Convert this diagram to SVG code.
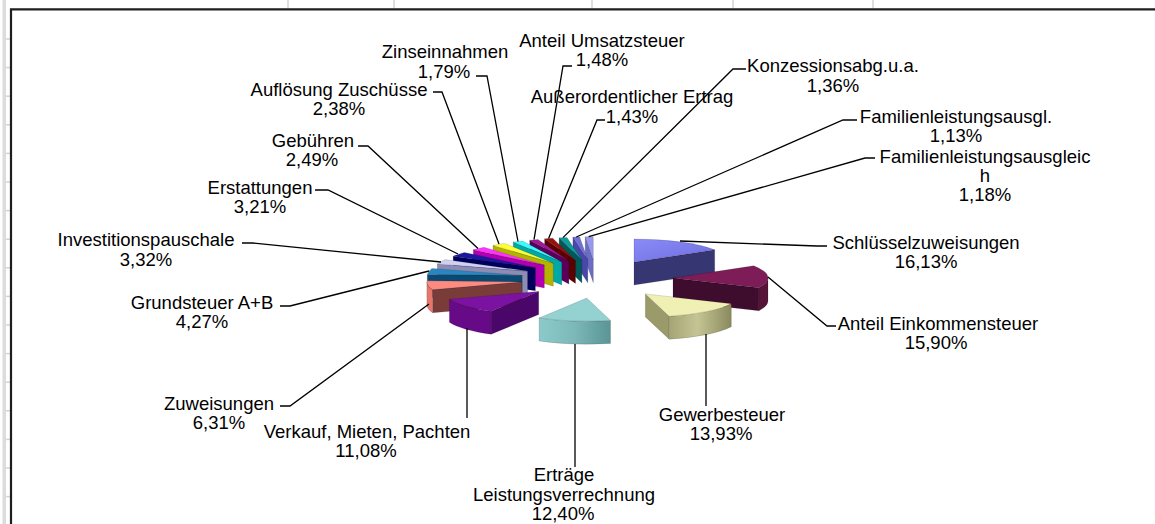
<svg xmlns="http://www.w3.org/2000/svg" width="1155" height="524" viewBox="0 0 1155 524">
<defs>
<style>
.t{font-family:"Liberation Sans",Arial,sans-serif;font-size:18.5px;fill:#000;text-anchor:middle}
.f{stroke:#000;stroke-opacity:.22;stroke-width:.6;stroke-linejoin:round}
.c{fill:none;stroke:#000;stroke-width:1.3}
.g{stroke:#d4d4d4;stroke-width:1.5}
</style>
<linearGradient id="gKh" x1="0" x2="1" y1="0" y2="0"><stop offset="0" stop-color="#a4a474"/><stop offset=".45" stop-color="#c4c494"/><stop offset="1" stop-color="#8a8a5e"/></linearGradient>
<linearGradient id="gTe" x1="0" x2="1" y1="0" y2="0"><stop offset="0" stop-color="#8ccaca"/><stop offset=".5" stop-color="#7cb8b8"/><stop offset="1" stop-color="#5a9494"/></linearGradient>
<linearGradient id="gBl" x1="0" x2="1" y1="0" y2="1"><stop offset="0" stop-color="#8a8af8"/><stop offset="1" stop-color="#6e6ee0"/></linearGradient>
</defs>
<rect width="1155" height="524" fill="#fff"/>
<g id="sheet-grid">
<rect x="2.5" y="0" width="3.5" height="524" fill="#dcdcdc"/>
<line class="g" x1="288" y1="0" x2="288" y2="8"/><line class="g" x1="394" y1="0" x2="394" y2="8"/><line class="g" x1="592" y1="0" x2="592" y2="8"/><line class="g" x1="733" y1="0" x2="733" y2="8"/><line class="g" x1="873" y1="0" x2="873" y2="8"/>
<line class="g" x1="6" y1="39" x2="10" y2="39"/><line class="g" x1="6" y1="67.6" x2="10" y2="67.6"/><line class="g" x1="6" y1="96.2" x2="10" y2="96.2"/><line class="g" x1="6" y1="124.8" x2="10" y2="124.8"/><line class="g" x1="6" y1="153.4" x2="10" y2="153.4"/><line class="g" x1="6" y1="182" x2="10" y2="182"/><line class="g" x1="6" y1="210.6" x2="10" y2="210.6"/><line class="g" x1="6" y1="239.2" x2="10" y2="239.2"/><line class="g" x1="6" y1="267.8" x2="10" y2="267.8"/><line class="g" x1="6" y1="296.4" x2="10" y2="296.4"/><line class="g" x1="6" y1="325" x2="10" y2="325"/><line class="g" x1="6" y1="353.6" x2="10" y2="353.6"/><line class="g" x1="6" y1="382.2" x2="10" y2="382.2"/><line class="g" x1="6" y1="410.8" x2="10" y2="410.8"/><line class="g" x1="6" y1="439.4" x2="10" y2="439.4"/><line class="g" x1="6" y1="468" x2="10" y2="468"/><line class="g" x1="6" y1="496.6" x2="10" y2="496.6"/>
</g>
<path d="M11,524 L11,9.3 L1155,9.3" fill="none" stroke="#1e1e1e" stroke-width="2.2"/>

<g id="n-familienleistungsausgleich">
<polygon class="f" points="593.3,259.7 585.2,236.8 585.2,259.8 593.3,282.7" fill="#6c6cc4"/>
<path class="f" d="M593.3,259.7 L585.2,236.8 A95,23 0 0 1 593.3,236.7 Z" fill="#9898f0"/>
<text class="t" x="985" y="162.5">Familienleistungsausgleic</text>
<text class="t" x="985" y="181.5">h</text>
<text class="t" x="985" y="201">1,18%</text>
</g>
<g id="n-familienleistungsausgl">
<polygon class="f" points="587.8,259.8 572.9,237.1 572.9,260.1 587.8,282.8" fill="#4848a8"/>
<path class="f" d="M587.8,259.8 L572.9,237.1 A95,23 0 0 1 579.7,236.9 Z" fill="#7070d8"/>
<text class="t" x="956" y="122.5">Familienleistungsausgl.</text>
<text class="t" x="956" y="142">1,13%</text>
</g>
<g id="n-konzessionsabg">
<polygon class="f" points="581.9,260.1 559.1,237.8 559.1,260.8 581.9,283.1" fill="#005a5a"/>
<path class="f" d="M581.9,260.1 L559.1,237.8 A95,23 0 0 1 567,237.4 Z" fill="#109a9a"/>
<text class="t" x="833" y="71.5">Konzessionsabg.u.a.</text>
<text class="t" x="833" y="91.5">1,36%</text>
</g>
<g id="n-ausserordentlicher-ertrag">
<polygon class="f" points="575.5,260.5 544.6,238.8 544.6,261.8 575.5,283.5" fill="#5a0000"/>
<path class="f" d="M575.5,260.5 L544.6,238.8 A95,23 0 0 1 552.7,238.2 Z" fill="#9a1010"/>
<text class="t" x="632" y="103">Außerordentlicher Ertrag</text>
<text class="t" x="632" y="123">1,43%</text>
</g>
<g id="n-anteil-umsatzsteuer">
<polygon class="f" points="568.9,261.1 529.7,240.2 529.7,263.2 568.9,284.1" fill="#5a005a"/>
<path class="f" d="M568.9,261.1 L529.7,240.2 A95,23 0 0 1 538,239.4 Z" fill="#9a1a9a"/>
<text class="t" x="602" y="46.5">Anteil Umsatzsteuer</text>
<text class="t" x="602" y="66">1,48%</text>
</g>
<g id="n-zinseinnahmen">
<polygon class="f" points="561.8,261.9 513.2,242.1 513.2,265.1 561.8,284.9" fill="#00a8a8"/>
<path class="f" d="M561.8,261.9 L513.2,242.1 A95,23 0 0 1 522.6,241 Z" fill="#33ffff"/>
<text class="t" x="445" y="58">Zinseinnahmen</text>
<text class="t" x="444" y="77.5">1,79%</text>
</g>
<g id="n-aufloesung-zuschuesse">
<polygon class="f" points="553.3,263.2 493,245.4 493,268.4 553.3,286.2" fill="#b4b400"/>
<path class="f" d="M553.3,263.2 L493,245.4 A95,23 0 0 1 504.7,243.4 Z" fill="#ffff33"/>
<text class="t" x="339" y="95.5">Auflösung Zuschüsse</text>
<text class="t" x="339" y="114.5">2,38%</text>
</g>
<g id="n-gebuehren">
<polygon class="f" points="544.3,265.1 473.3,249.8 473.3,272.8 544.3,288.1" fill="#b000b0"/>
<path class="f" d="M544.3,265.1 L473.3,249.8 A95,23 0 0 1 484,247.3 Z" fill="#ff33ff"/>
<text class="t" x="313" y="146.5">Gebühren</text>
<text class="t" x="312" y="166">2,49%</text>
</g>
<g id="n-erstattungen">
<polygon class="f" points="535.4,267.7 453.2,256.2 453.2,279.2 535.4,290.7" fill="#00005a"/>
<path class="f" d="M535.4,267.7 L453.2,256.2 A95,23 0 0 1 464.4,252.4 Z" fill="#1a1aa0"/>
<text class="t" x="260" y="193.5">Erstattungen</text>
<text class="t" x="260" y="213">3,21%</text>
</g>
<g id="n-investitionspauschale">
<polygon class="f" points="527.6,271.1 437.3,264 437.3,287 527.6,294.1" fill="#8c8cb4"/>
<path class="f" d="M527.6,271.1 L437.3,264 A95,23 0 0 1 445.4,259.6 Z" fill="#d0d0f4"/>
<text class="t" x="146" y="246">Investitionspauschale</text>
<text class="t" x="146" y="265.5">3,32%</text>
</g>
<g id="n-grundsteuer">
<polygon class="f" points="522.2,275.5 427.3,274.4 427.3,297.4 522.2,298.5" fill="#0a4a72"/>
<path class="f" d="M522.2,275.5 L427.3,274.4 A95,23 0 0 1 431.9,268.4 Z" fill="#2a86c0"/>
<text class="t" x="202" y="308.5">Grundsteuer A+B</text>
<text class="t" x="202" y="328">4,27%</text>
</g>
<g id="n-zuweisungen">
<polygon class="f" points="521.9,281.9 432.6,289.8 432.6,312.8 521.9,304.9" fill="#7a3c38"/>
<path class="f" d="M432.6,289.8 A95,23 0 0 1 426.9,281.9 L426.9,304.9 A95,23 0 0 0 432.6,312.8 Z" fill="#e8766c"/>
<path class="f" d="M521.9,281.9 L432.6,289.8 A95,23 0 0 1 427,280.8 Z" fill="#ff8a80"/>
<text class="t" x="219" y="409.5">Zuweisungen</text>
<text class="t" x="219" y="429">6,31%</text>
</g>
<g id="n-schluesselzuweisungen">
<polygon class="f" points="634,262 714.7,249.8 714.7,272.8 634,285" fill="#363672"/>
<path class="f" d="M634,262 L634,239 A95,23 0 0 1 714.7,249.8 Z" fill="url(#gBl)"/>
<text class="t" x="926" y="248.5">Schlüsselzuweisungen</text>
<text class="t" x="926" y="268">16,13%</text>
</g>
<g id="n-anteil-einkommensteuer">
<polygon class="f" points="673,278 758.9,287.8 758.9,310.8 673,301" fill="#3e0c2c"/>
<path class="f" d="M768,278 A95,23 0 0 1 758.9,287.8 L758.9,310.8 A95,23 0 0 0 768,301 Z" fill="#561438"/>
<path class="f" d="M673,278 L753.7,265.8 A95,23 0 0 1 758.9,287.8 Z" fill="#7e1c58"/>
<text class="t" x="938" y="329.5">Anteil Einkommensteuer</text>
<text class="t" x="936" y="349">15,90%</text>
</g>
<g id="n-gewerbesteuer">
<polygon class="f" points="645.4,293.9 669.2,316.2 669.2,339.2 645.4,316.9" fill="#9a9a6a"/>
<path class="f" d="M731.3,303.7 A95,23 0 0 1 669.2,316.2 L669.2,339.2 A95,23 0 0 0 731.3,326.7 Z" fill="url(#gKh)"/>
<path class="f" d="M645.4,293.9 L731.3,303.7 A95,23 0 0 1 669.2,316.2 Z" fill="#f0f0b4"/>
<text class="t" x="722" y="420.5">Gewerbesteuer</text>
<text class="t" x="721" y="440">13,93%</text>
</g>
<g id="n-ertraege-leistungsverrechnung">
<path class="f" d="M610.5,320.4 A95,23 0 0 1 539.1,318 L539.1,341 A95,23 0 0 0 610.5,343.4 Z" fill="url(#gTe)"/>
<path class="f" d="M586.7,298.1 L610.5,320.4 A95,23 0 0 1 539.1,318 Z" fill="#94d2d2"/>
<text class="t" x="564" y="480.5">Erträge</text>
<text class="t" x="564" y="500.5">Leistungsverrechnung</text>
<text class="t" x="563" y="520">12,40%</text>
</g>
<g id="n-verkauf-mieten-pachten">
<polygon class="f" points="538.7,291.4 491.1,311.3 491.1,334.3 538.7,314.4" fill="#4a0668"/>
<path class="f" d="M491.1,311.3 A95,23 0 0 1 449.4,299.3 L449.4,322.3 A95,23 0 0 0 491.1,334.3 Z" fill="#660a88"/>
<path class="f" d="M538.7,291.4 L491.1,311.3 A95,23 0 0 1 449.4,299.3 Z" fill="#7c12a2"/>
<text class="t" x="367" y="437.5">Verkauf, Mieten, Pachten</text>
<text class="t" x="366" y="457">11,08%</text>
</g>

<g id="connectors">
<polyline class="c" points="680,241 817,246 827,246"/>
<polyline class="c" points="768,277 827,326 836,326"/>
<polyline class="c" points="706,334 706,406"/>
<polyline class="c" points="575,344 575,467"/>
<polyline class="c" points="467,328 467,418"/>
<polyline class="c" points="280,406 290,406 429,304"/>
<polyline class="c" points="280,306 290,306 429,271"/>
<polyline class="c" points="242,243 253,243 441,262"/>
<polyline class="c" points="315,190 328,190 458,254"/>
<polyline class="c" points="358,146 368,146 478,248.5"/>
<polyline class="c" points="433,92 442,92 499,244"/>
<polyline class="c" points="476,76 487,76 518,241.5"/>
<polyline class="c" points="572,66 563,66 534,239.7"/>
<polyline class="c" points="605,120 597,120 548.6,238.4"/>
<polyline class="c" points="746,69 733,69 563,237.6"/>
<polyline class="c" points="857,120 843,120 576.3,237"/>
<polyline class="c" points="875,158 865,158 588.7,236.7"/>
</g>
</svg>
